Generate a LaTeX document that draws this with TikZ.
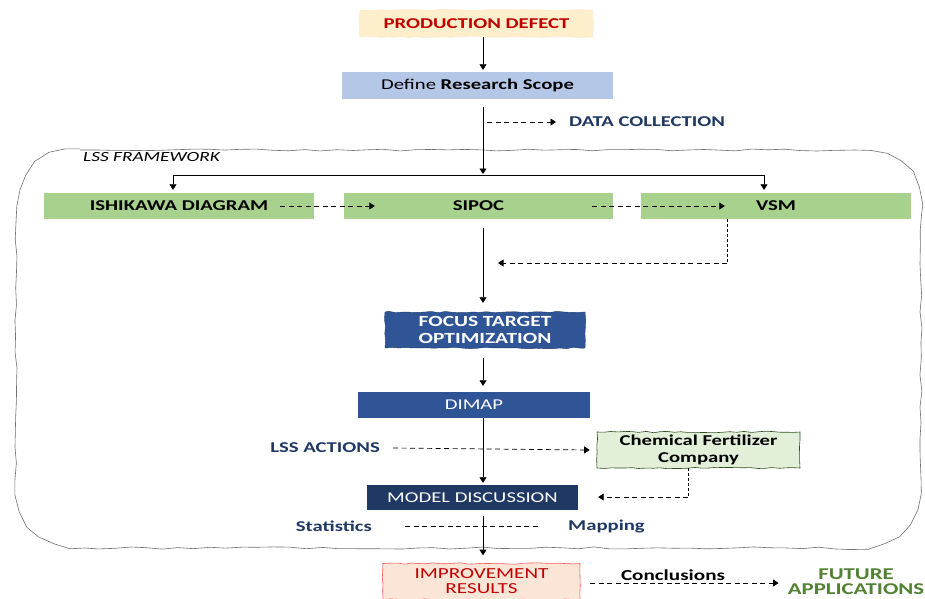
\documentclass[tikz,border=0pt]{standalone}
\usepackage{fontspec}
\setmainfont{Carlito}[FakeStretch=1.38]
\usetikzlibrary{arrows.meta,decorations.pathmorphing,calc}
\definecolor{dred}{HTML}{C00000}
\definecolor{navy}{HTML}{1F3864}
\definecolor{bluebox}{HTML}{2F5597}
\definecolor{greenbox}{HTML}{A9D18E}
\definecolor{lblue}{HTML}{B4C7E7}
\definecolor{lyellow}{HTML}{FDEFCB}
\definecolor{lgreen}{HTML}{E2F0D9}
\definecolor{lsalmon}{HTML}{FBE5D6}
\definecolor{gtext}{HTML}{548235}
\definecolor{frameline}{HTML}{707070}
\begin{document}
\begin{tikzpicture}[x=1pt,y=-1pt,
  box/.style={inner sep=0pt, align=center, font=\fontsize{15}{17}\selectfont},
  rough/.style={decorate, decoration={random steps, segment length=7pt, amplitude=0.7pt}},
  arr/.style={-{Triangle[length=5.5pt,width=7pt]}, line width=0.7pt},
  darr/.style={arr, dash pattern=on 5pt off 3.5pt},
  dline/.style={line width=0.7pt, dash pattern=on 5pt off 3.5pt},
  lbl/.style={inner sep=0pt, font=\fontsize{15}{17}\selectfont\bfseries, text=navy}]
\pgfmathsetseed{11}
\useasboundingbox (0,0) rectangle (925,598);
\fill[white] (0,0) rectangle (925,598);

% frame
\draw[frameline, line width=0.6pt, decorate, decoration={random steps, segment length=16pt, amplitude=1.1pt}]
  (80,150) -- (855,150) .. controls (900,150) and (921,170) .. (921,215)
  -- (921,478) .. controls (921,525) and (895,548) .. (850,548)
  -- (85,548) .. controls (40,548) and (16,525) .. (16,480)
  -- (16,222) .. controls (16,175) and (38,150) .. (80,150) -- cycle;
\node[anchor=west, inner sep=0pt, font=\fontsize{14}{16}\selectfont\itshape] (lss) at (83,157) {LSS FRAMEWORK};

\coordinate (spine) at (483,0);

% nodes
\node[box, rough, draw=lyellow!60!orange!40, fill=lyellow, minimum width=233pt, minimum height=27pt, text=dred, font=\fontsize{15}{17}\selectfont\bfseries] (pd) at (476.5,23.5) {PRODUCTION DEFECT};
\node[box, fill=lblue, minimum width=271pt, minimum height=27pt] (rs) at (477.5,85.5) {Define \textbf{Research Scope}};
\node[lbl, anchor=west] (dc) at (569,122) {DATA COLLECTION};

\node[box, fill=greenbox, minimum width=270pt, minimum height=26pt, font=\fontsize{15}{17}\selectfont\bfseries] (ish) at (179,206) {ISHIKAWA DIAGRAM};
\node[box, fill=greenbox, minimum width=269pt, minimum height=26pt, font=\fontsize{15}{17}\selectfont\bfseries] (sipoc) at (478.5,206) {SIPOC};
\node[box, fill=greenbox, minimum width=270pt, minimum height=26pt, font=\fontsize{15}{17}\selectfont\bfseries] (vsm) at (776,206) {VSM};

\node[box, rough, fill=bluebox, draw=bluebox!70!black, minimum width=200pt, minimum height=36pt, text=white, font=\fontsize{15.5}{17}\selectfont\bfseries] (fto) at (485,330) {FOCUS TARGET\\OPTIMIZATION};
\node[box, fill=bluebox, minimum width=232pt, minimum height=26pt, text=white] (dimap) at (474,405) {DIMAP};
\node[lbl, anchor=east] (lssa) at (380,448) {LSS ACTIONS};
\node[box, rough, draw=gtext!60!black, fill=lgreen, minimum width=203pt, minimum height=36pt, font=\fontsize{15}{17}\selectfont\bfseries, line width=0.6pt] (cfc) at (698.5,450) {Chemical Fertilizer\\Company};
\node[box, fill=navy, minimum width=211pt, minimum height=25pt, text=white] (md) at (472.5,497.5) {MODEL DISCUSSION};
\node[lbl, anchor=east] (stat) at (372,526) {Statistics};
\node[lbl, anchor=west] (map) at (568,526) {Mapping};
\node[box, rough, draw=red!65, fill=lsalmon, minimum width=197pt, minimum height=36pt, text=dred, font=\fontsize{15.3}{15}\selectfont, line width=0.6pt] (ir) at (481.5,581.5) {IMPROVEMENT\\RESULTS};
\node[inner sep=0pt, font=\fontsize{15.3}{16}\selectfont\bfseries, anchor=south] (concl) at (673,581) {Conclusions};
\node[inner sep=0pt, align=center, text=gtext, font=\fontsize{16.5}{15.5}\selectfont\bfseries] (fut) at (856,581.5) {FUTURE\\APPLICATIONS};

% connectors
\draw[arr] (pd.south -| spine) -- ([yshift=2pt]rs.north -| spine);
\coordinate (split) at (483,175);
\coordinate (hl) at (173,175);
\coordinate (hr) at (764,175);
\draw[arr] ([yshift=-8pt]rs.south -| spine) -- ([yshift=1pt]split);
\draw[line width=0.7pt] (hl) -- (hr);
\draw[arr] (hl) -- ([yshift=3pt]ish.north -| hl);
\draw[arr] (hr) -- ([yshift=3pt]vsm.north -| hr);
\draw[darr] (487,122) -- ([xshift=-13pt]dc.west);

\draw[darr] ([xshift=-34pt]ish.east) -- ([xshift=31pt]sipoc.west);
\draw[darr] ([xshift=-21pt]sipoc.east) -- ([xshift=84pt]vsm.west);

\coordinate (vsmd) at (727,263);
\draw[dline, dash pattern=on 3pt off 2pt] (vsm.south -| vsmd) -- (vsmd);
\draw[darr] (vsmd) -- (498,263);
\draw[arr] ([yshift=-9pt]sipoc.south -| spine) -- ([yshift=9pt]fto.north -| spine);
\draw[arr] ([yshift=-10pt]fto.south -| spine) -- ([yshift=6pt]dimap.north -| spine);
\draw[arr] (dimap.south -| spine) -- ([yshift=2pt]md.north -| spine);
\draw[darr] ([xshift=13pt]lssa.east) -- ([xshift=-7pt]cfc.west);
\coordinate (cfcd) at (688,497);
\draw[dline, dash pattern=on 3pt off 2pt] (cfc.south -| cfcd) -- (cfcd);
\draw[darr] (cfcd) -- ([xshift=20pt]md.east |- cfcd);
\draw[dline] ([xshift=33pt]stat.east) -- ([xshift=-28pt]map.west);
\draw[arr] ([yshift=-6pt]md.south -| spine) -- ([yshift=8pt]ir.north -| spine);
\draw[darr] ([xshift=10pt]ir.east |- 0,583) -- ([xshift=-9pt]fut.west |- 0,583);
\end{tikzpicture}
\end{document}
